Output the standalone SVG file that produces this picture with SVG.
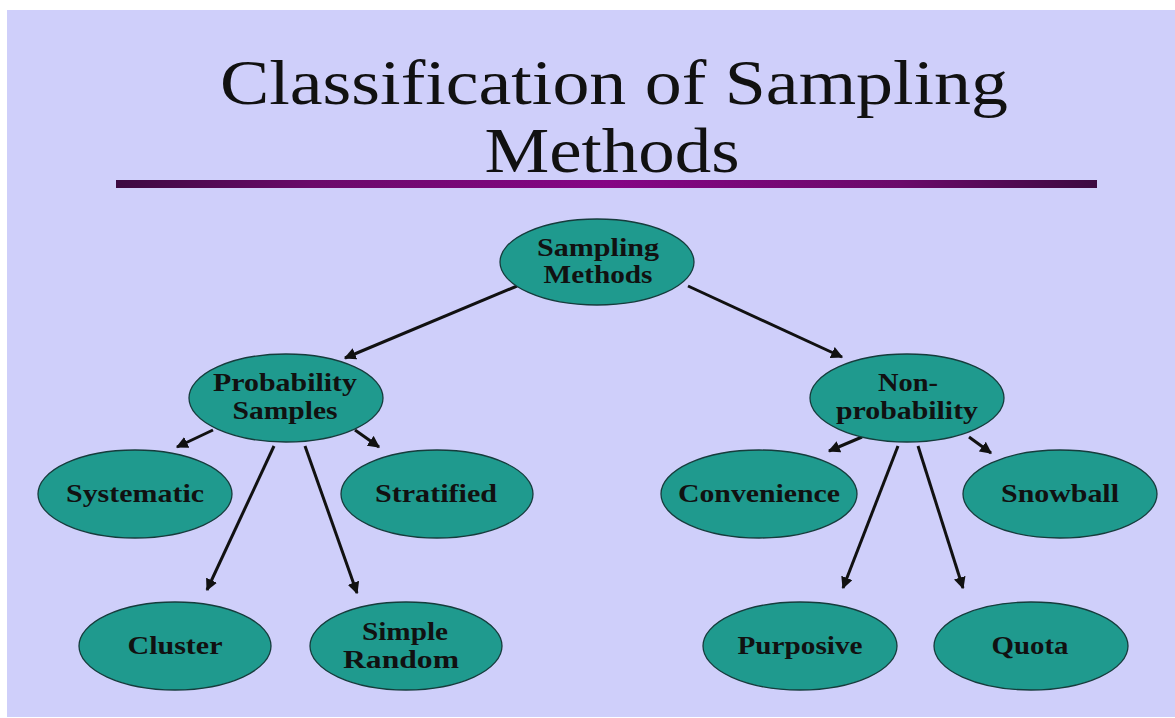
<svg xmlns="http://www.w3.org/2000/svg" width="1175" height="718" viewBox="0 0 1175 718">
<defs>
<linearGradient id="bar" x1="0" x2="1" y1="0" y2="0">
<stop offset="0" stop-color="#3c0a40"/>
<stop offset="0.2" stop-color="#6a0a6a"/>
<stop offset="0.5" stop-color="#850585"/>
<stop offset="0.8" stop-color="#6a0a6a"/>
<stop offset="1" stop-color="#3c0a40"/>
</linearGradient>
<marker id="ah" viewBox="0 0 10 10" refX="9" refY="5" markerWidth="4" markerHeight="4" orient="auto" markerUnits="strokeWidth">
<path d="M0,0 L10,5 L0,10 z" fill="#111"/>
</marker>
<style>
.node ellipse{fill:#1f9a8e;stroke:#163c3c;stroke-width:1.3}
.node text{font-family:"Liberation Serif","Times New Roman",serif;font-weight:bold;font-size:25px;fill:#111;text-anchor:middle}
.title{font-family:"Liberation Serif","Times New Roman",serif;font-size:63px;fill:#111;text-anchor:middle}
#connectors line{stroke:#111;stroke-width:3;marker-end:url(#ah)}
</style>
</defs>
<rect x="0" y="0" width="1175" height="718" fill="#ffffff"/>
<rect x="7" y="10" width="1168" height="707" fill="#cfcffa"/>
<text class="title" x="614" y="104" textLength="788" lengthAdjust="spacingAndGlyphs">Classification of Sampling</text>
<text class="title" x="612" y="172" textLength="255" lengthAdjust="spacingAndGlyphs">Methods</text>
<rect x="116" y="180" width="981" height="8" fill="url(#bar)"/>
<g id="connectors">
<line x1="517" y1="286" x2="345" y2="358"/>
<line x1="688" y1="286" x2="842" y2="357"/>
<line x1="213" y1="430" x2="177" y2="447"/>
<line x1="355" y1="430" x2="379" y2="447"/>
<line x1="274" y1="446" x2="207" y2="590"/>
<line x1="305" y1="446" x2="357" y2="593"/>
<line x1="862" y1="437" x2="829" y2="451"/>
<line x1="969" y1="437" x2="991" y2="453"/>
<line x1="898" y1="446" x2="843" y2="588"/>
<line x1="918" y1="446" x2="963" y2="588"/>
</g>
<g id="n-sampling" class="node"><ellipse cx="597" cy="262" rx="97" ry="43"/><text x="598" y="256" textLength="122" lengthAdjust="spacingAndGlyphs">Sampling</text><text x="598" y="283" textLength="109" lengthAdjust="spacingAndGlyphs">Methods</text></g>
<g id="n-probability" class="node"><ellipse cx="286" cy="398" rx="97" ry="44"/><text x="285" y="391" textLength="144" lengthAdjust="spacingAndGlyphs">Probability</text><text x="285" y="419" textLength="105" lengthAdjust="spacingAndGlyphs">Samples</text></g>
<g id="n-nonprob" class="node"><ellipse cx="907" cy="398" rx="97" ry="44"/><text x="908" y="391" textLength="60" lengthAdjust="spacingAndGlyphs">Non-</text><text x="907" y="419" textLength="142" lengthAdjust="spacingAndGlyphs">probability</text></g>
<g id="n-systematic" class="node"><ellipse cx="135" cy="494" rx="97" ry="44"/><text x="135" y="502" textLength="138" lengthAdjust="spacingAndGlyphs">Systematic</text></g>
<g id="n-stratified" class="node"><ellipse cx="437" cy="494" rx="96" ry="44"/><text x="436" y="502" textLength="122" lengthAdjust="spacingAndGlyphs">Stratified</text></g>
<g id="n-convenience" class="node"><ellipse cx="759" cy="494" rx="98" ry="44"/><text x="759" y="502" textLength="162" lengthAdjust="spacingAndGlyphs">Convenience</text></g>
<g id="n-snowball" class="node"><ellipse cx="1060" cy="494" rx="97" ry="44"/><text x="1060" y="502" textLength="118" lengthAdjust="spacingAndGlyphs">Snowball</text></g>
<g id="n-cluster" class="node"><ellipse cx="175" cy="646" rx="96" ry="44"/><text x="175" y="654" textLength="95" lengthAdjust="spacingAndGlyphs">Cluster</text></g>
<g id="n-simple" class="node"><ellipse cx="406" cy="646" rx="96" ry="44"/><text x="405" y="640" textLength="86" lengthAdjust="spacingAndGlyphs">Simple</text><text x="401" y="668" textLength="116" lengthAdjust="spacingAndGlyphs">Random</text></g>
<g id="n-purposive" class="node"><ellipse cx="800" cy="646" rx="97" ry="44"/><text x="800" y="654" textLength="125" lengthAdjust="spacingAndGlyphs">Purposive</text></g>
<g id="n-quota" class="node"><ellipse cx="1031" cy="646" rx="97" ry="44"/><text x="1030" y="654" textLength="77" lengthAdjust="spacingAndGlyphs">Quota</text></g>
</svg>
